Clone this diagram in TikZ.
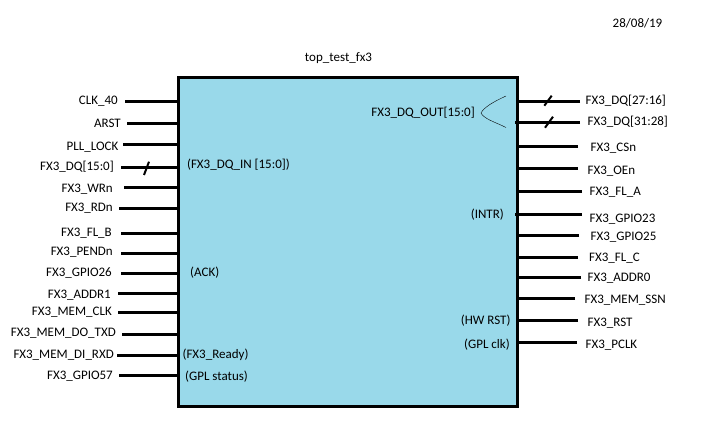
\documentclass[tikz,border=0pt]{standalone}
\usepackage{fontspec}
\setmainfont{Carlito}
\usepackage{xcolor}
\definecolor{blockblue}{HTML}{99D9EA}
\begin{document}
\begin{tikzpicture}[x=1pt,y=-1pt,
    every node/.style={font=\fontsize{13}{15}\selectfont, inner sep=0pt},
    lbl/.style={anchor=east, yshift=-1pt},
    rbl/.style={anchor=west, yshift=-1pt},
    wire/.style={line width=2.6pt},
    slash/.style={line width=2pt},
    block/.style={draw, line width=3pt, fill=blockblue, outer sep=0pt,
      minimum width=339pt, minimum height=328pt}]
    \useasboundingbox (0,0) rectangle (708,427);
    \node [block] (fx) at (347.5,242) {};
    \node (title) at (338.5,58) {top\_test\_fx3};
    \node (date) at (637.5,23) {28/08/19};
    % left side
    \node [lbl] (clk) at (118,100) {CLK\_40};
    \node [lbl] (arst) at (121,122) {ARST};
    \node [lbl] (lock) at (118.5,146) {PLL\_LOCK};
    \node [lbl] (dqin) at (114,166) {FX3\_DQ[15:0]};
    \node [lbl] (wrn) at (113,188) {FX3\_WRn};
    \node [lbl] (rdn) at (113,207.5) {FX3\_RDn};
    \node [lbl] (flb) at (112,232) {FX3\_FL\_B};
    \node [lbl] (pend) at (113,251) {FX3\_PENDn};
    \node [lbl] (gpa) at (112,272) {FX3\_GPIO26};
    \node [lbl] (adra) at (111,294) {FX3\_ADDR1};
    \node [lbl] (mclk) at (112,311) {FX3\_MEM\_CLK};
    \node [lbl] (mdo) at (116,332) {FX3\_MEM\_DO\_TXD};
    \node [lbl] (mdi) at (114,354) {FX3\_MEM\_DI\_RXD};
    \node [lbl] (gpb) at (113,375) {FX3\_GPIO57};
    \coordinate (clkw) at (125,101.3);
    \coordinate (arstw) at (127,123.3);
    \coordinate (lockw) at (123,144.7);
    \coordinate (dqinw) at (121,167.3);
    \coordinate (wrnw) at (124,187.3);
    \coordinate (rdnw) at (119,208.3);
    \coordinate (flbw) at (121,233.3);
    \coordinate (pendw) at (121,253.3);
    \coordinate (gpaw) at (121,273.3);
    \coordinate (adraw) at (118,293.3);
    \coordinate (mclkw) at (118,312.3);
    \coordinate (mdow) at (122,334.3);
    \coordinate (mdiw) at (117,355.3);
    \coordinate (gpbw) at (119,375.3);
    \draw [wire] (clkw) -- (clkw -| fx.west);
    \draw [wire] (arstw) -- (arstw -| fx.west);
    \draw [wire] (lockw) -- (lockw -| fx.west);
    \draw [wire] (dqinw) -- (dqinw -| fx.west);
    \draw [wire] (wrnw) -- (wrnw -| fx.west);
    \draw [wire] (rdnw) -- (rdnw -| fx.west);
    \draw [wire] (flbw) -- (flbw -| fx.west);
    \draw [wire] (pendw) -- (pendw -| fx.west);
    \draw [wire] (gpaw) -- (gpaw -| fx.west);
    \draw [wire] (adraw) -- ([xshift=2pt]adraw -| fx.west);
    \draw [wire] (mclkw) -- (mclkw -| fx.west);
    \draw [wire] (mdow) -- (mdow -| fx.west);
    \draw [wire] (mdiw) -- (mdiw -| fx.west);
    \draw [wire] (gpbw) -- ([xshift=2pt]gpbw -| fx.west);
    \draw [slash] (149,161.7) -- (144,175);
    % right side
    \node [rbl] (dqa) at (585.5,100) {FX3\_DQ[27:16]};
    \node [rbl] (dqb) at (587.5,121) {FX3\_DQ[31:28]};
    \node [rbl] (csn) at (590.5,147) {FX3\_CSn};
    \node [rbl] (oen) at (587.5,170) {FX3\_OEn};
    \node [rbl] (fla) at (589.5,191) {FX3\_FL\_A};
    \node [rbl] (gpc) at (589.5,218) {FX3\_GPIO23};
    \node [rbl] (gpd) at (590.5,236) {FX3\_GPIO25};
    \node [rbl] (flc) at (589,257) {FX3\_FL\_C};
    \node [rbl] (adrb) at (587.5,277) {FX3\_ADDR0};
    \node [rbl] (ssn) at (584.5,299) {FX3\_MEM\_SSN};
    \node [rbl] (rst) at (587.5,322) {FX3\_RST};
    \node [rbl] (pclk) at (585.5,344) {FX3\_PCLK};
    \coordinate (dqaw) at (580,101.3);
    \coordinate (dqbw) at (580,122.3);
    \coordinate (csnw) at (578,146.7);
    \coordinate (oenw) at (578,168.3);
    \coordinate (flaw) at (582,191.3);
    \coordinate (gpcw) at (582,214.3);
    \coordinate (gpdw) at (579,235.3);
    \coordinate (flcw) at (578,257.3);
    \coordinate (adrbw) at (581,277.3);
    \coordinate (ssnw) at (575,298.3);
    \coordinate (rstw) at (578,320.3);
    \coordinate (pclkw) at (577,342.3);
    \draw [wire] (dqaw) -- (dqaw -| fx.east);
    \draw [wire] (dqbw) -- ([xshift=-2pt]dqbw -| fx.east);
    \draw [wire] (csnw) -- (csnw -| fx.east);
    \draw [wire] (oenw) -- (oenw -| fx.east);
    \draw [wire] (flaw) -- (flaw -| fx.east);
    \draw [wire] (gpcw) -- ([xshift=-2pt]gpcw -| fx.east);
    \draw [wire] (gpdw) -- (gpdw -| fx.east);
    \draw [wire] (flcw) -- (flcw -| fx.east);
    \draw [wire] (adrbw) -- (adrbw -| fx.east);
    \draw [wire] (ssnw) -- (ssnw -| fx.east);
    \draw [wire] (rstw) -- (rstw -| fx.east);
    \draw [wire] (pclkw) -- (pclkw -| fx.east);
    \draw [slash] (551.7,95.7) -- (544.3,105.7);
    \draw [slash] (553,116.7) -- (545,127.7);
    % inside the block
    \node [rbl] (dqinner) at (187,164) {(FX3\_DQ\_IN [15:0])};
    \node [rbl] (ack) at (190,272) {(ACK)};
    \node [rbl] (ready) at (182.5,354) {(FX3\_Ready)};
    \node [rbl] (status) at (185,376) {(GPL status)};
    \node [lbl] (dqouter) at (475,112) {FX3\_DQ\_OUT[15:0]};
    \node [lbl] (intr) at (504,214) {(INTR)};
    \node [lbl] (hwrst) at (510.7,320) {(HW RST)};
    \node [lbl] (gplclk) at (510,344) {(GPL clk)};
    \coordinate (bracea) at (506,96);
    \coordinate (braceb) at (481,113);
    \coordinate (bracec) at (506,127.5);
    \draw (bracea) .. controls (495,101) and (484,107) .. (braceb)
      .. controls (484,119) and (495,122) .. (bracec);
\end{tikzpicture}
\end{document}
